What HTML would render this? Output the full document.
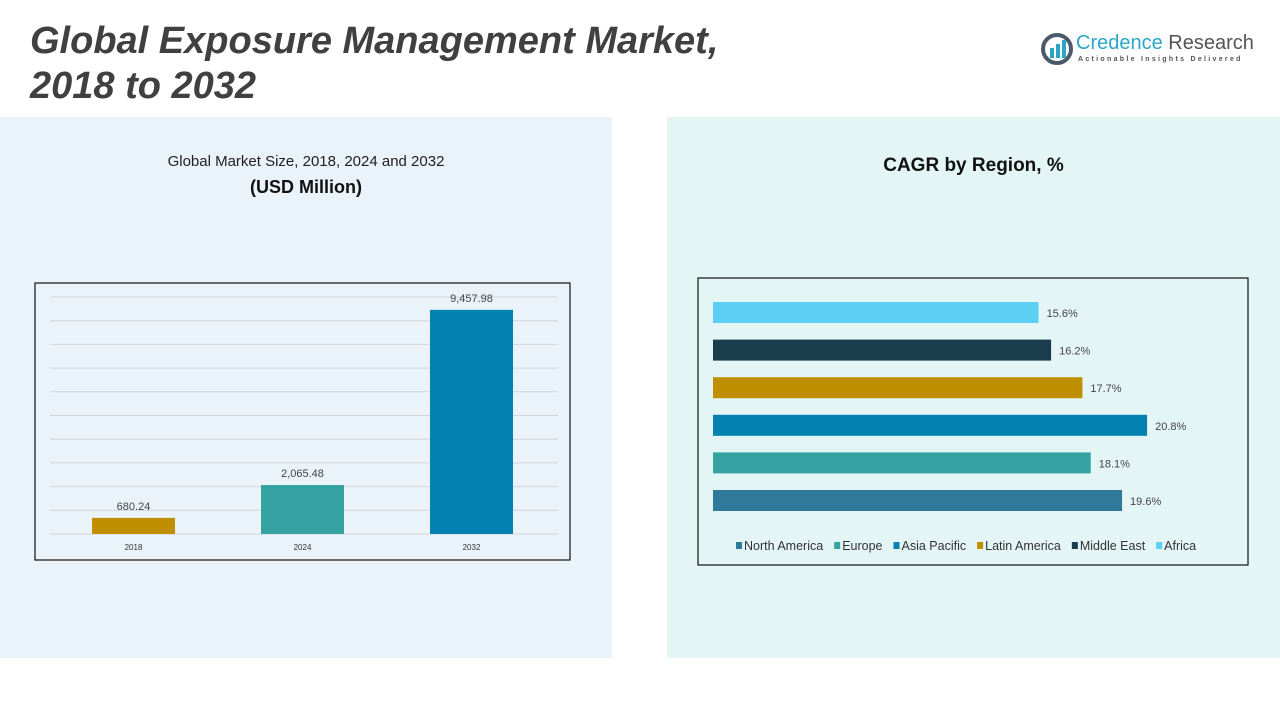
<!DOCTYPE html>
<html><head><meta charset="utf-8"><style>
body{margin:0;width:1280px;height:720px;background:#fff;position:relative;overflow:hidden;font-family:"Liberation Sans",sans-serif}
.abs{position:absolute}
</style></head><body>
<div class="abs" style="left:0;top:117px;width:612px;height:541px;background:#eaf3f9"></div>
<div class="abs" style="left:667px;top:117px;width:613px;height:541px;background:#e4f5f6"></div>
<div class="abs" style="left:30px;top:19px;font-size:38px;font-weight:bold;font-style:italic;color:#404040;line-height:45px;white-space:nowrap">Global Exposure Management Market,<br>2018 to 2032</div>
<div class="abs" style="left:1040px;top:32px;width:210px;height:36px">
 <svg width="34" height="34" style="position:absolute;left:0;top:0"><circle cx="17" cy="17" r="14" fill="none" stroke="#4a5a6a" stroke-width="4"/><rect x="10" y="16" width="4" height="10" fill="#2aa7c6"/><rect x="16" y="12" width="4" height="14" fill="#2aa7c6"/><rect x="22" y="8" width="4" height="18" fill="#2aa7c6"/></svg>
 <div class="abs" style="left:36px;top:0;font-size:20px;color:#2aa7c6;white-space:nowrap">Credence <span style="color:#555">Research</span></div>
 <div class="abs" style="left:38px;top:24px;font-size:7px;letter-spacing:2.3px;color:#555;white-space:nowrap;font-weight:bold">Actionable Insights Delivered</div>
</div>
<div class="abs" style="left:0;width:612px;top:153px;text-align:center;font-size:15px;color:#222">Global Market Size, 2018, 2024 and 2032</div>
<div class="abs" style="left:0;width:612px;top:177px;text-align:center;font-size:18px;font-weight:bold;color:#111">(USD Million)</div>
<div class="abs" style="left:667px;width:613px;top:155px;text-align:center;font-size:19px;font-weight:bold;color:#111">CAGR by Region, %</div>

<svg class="abs" style="left:0;top:0" width="1280" height="720" id="charts">
 <rect x="35" y="283" width="535" height="277" fill="none" stroke="#111" stroke-width="1.2"/>
 <rect x="698" y="278" width="550" height="287" fill="none" stroke="#111" stroke-width="1.2"/>
 <g id="g1"></g><g id="g2"></g>
</svg>
<script>
const years=["2018","2024","2032"];
const sizes=[680.24,2065.48,9457.98];
const sizeLabels=["680.24","2,065.48","9,457.98"];
const sizeColors=["#c08f00","#35a3a2","#0381b0"];
const regions=["Africa","Middle East","Latin America","Asia Pacific","Europe","North America"];
const cagr=[15.6,16.2,17.7,20.8,18.1,19.6];
const regionColors=["#5dcff5","#1a3c4c","#c08f00","#0381b0","#35a3a2","#2f7a9a"];
const legendOrder=["North America","Europe","Asia Pacific","Latin America","Middle East","Africa"];
const NS="http://www.w3.org/2000/svg";
function mk(p,t,a){const e=document.createElementNS(NS,t);for(const k in a)e.setAttribute(k,a[k]);p.appendChild(e);return e;}
const g1=document.getElementById('g1');
const base=534,yMax=10000,ph=237;
const y=v=>base-v/yMax*ph;
for(let i=0;i<=10;i++){const gy=base-i*23.7;const l=mk(g1,'line',{x1:50,x2:558,y1:gy,y2:gy,stroke:'#d0d6da','stroke-width':1});

}
const xc=i=>133.5+i*169;
sizes.forEach((v,i)=>{
 const r=mk(g1,'rect',{x:xc(i)-41.5,y:y(v),width:83,height:base-y(v),fill:sizeColors[i]});
 
 
 const t=mk(g1,'text',{x:xc(i),y:y(v)-8,'text-anchor':'middle','font-size':11,fill:'#444'});t.textContent=sizeLabels[i];
 
 
 const c=mk(g1,'text',{x:xc(i),y:550,'text-anchor':'middle','font-size':8,fill:'#333'});c.textContent=years[i];
 
 
});
const g2=document.getElementById('g2');
const x0=713,pxPer=20.87;
regions.forEach((r,i)=>{
 const top=302+i*37.6,w=cagr[i]*pxPer;
 const b=mk(g2,'rect',{x:x0,y:top,width:w,height:21,fill:regionColors[i]});
 
 
 const t=mk(g2,'text',{x:x0+w+8,y:top+15,'font-size':11,fill:'#444'});t.textContent=cagr[i].toFixed(1)+'%';
 
 
});
let lx=736;
legendOrder.forEach(n=>{
 const i=regions.indexOf(n);
 mk(g2,'rect',{x:lx,y:542,width:6,height:7,fill:regionColors[i]});
 const t=mk(g2,'text',{x:lx+8,y:550,'font-size':12.5,fill:'#333'});t.textContent=n;
 
 
 lx+=8+t.getComputedTextLength()+11;
});
</script>
</body></html>
